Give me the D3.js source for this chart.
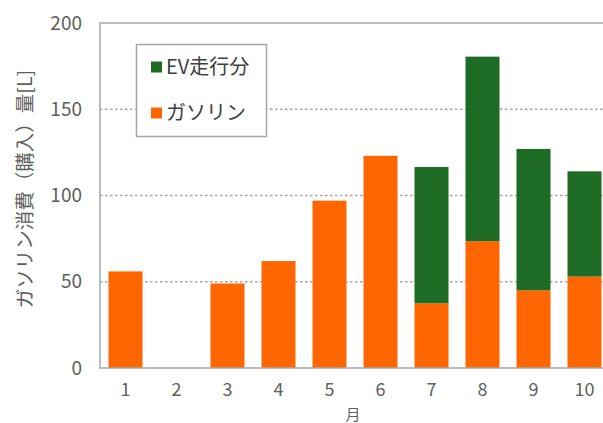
<!DOCTYPE html>
<html><head><meta charset="utf-8">
<script src="https://cdn.jsdelivr.net/npm/d3@7"></script>
<style>
html,body{margin:0;padding:0;background:#fff;overflow:hidden}
svg{display:block}
text{font-family:"Noto Sans CJK JP","Noto Sans",sans-serif}
</style></head><body>
<svg id="c" width="603" height="423"></svg>
<script>
const months = ["1","2","3","4","5","6","7","8","9","10"];
const gasoline = [56, 0, 49, 62, 97, 123, 37.5, 73.5, 45, 53];
const evDriving = [0, 0, 0, 0, 0, 0, 79, 107, 82, 61];
const yTicks = [0, 50, 100, 150, 200];
const seriesNames = ["EV走行分", "ガソリン"];
const colors = {"ガソリン": "#FF6600", "EV走行分": "#1D6B24"};

const svg = d3.select("#c");
const pL = 100, pR = 610, pT = 23, pB = 368;

const x = d3.scaleBand().domain(months).range([pL, pR]).paddingInner(1/3).paddingOuter(1/6);
const y = d3.scaleLinear().domain([0, 200]).range([pB, pT]);

// gridlines
svg.append("g").selectAll("line").data(yTicks.filter(d => d > 0 && d < 200)).join("line")
  .attr("x1", pL).attr("x2", 603).attr("y1", d => y(d)).attr("y2", d => y(d))
  .attr("stroke", "#a6a6a6").attr("stroke-width", 1.3).attr("stroke-dasharray", "2.5,2.5");

// stacked bars
const rows = months.map((m, i) => ({m, "ガソリン": gasoline[i], "EV走行分": evDriving[i]}));
const stack = d3.stack().keys(["ガソリン", "EV走行分"])(rows);
svg.append("g").selectAll("g").data(stack).join("g")
  .attr("fill", d => colors[d.key])
  .selectAll("rect").data(d => d.filter(p => p[1] - p[0] > 0)).join("rect")
  .attr("x", d => x(d.data.m)).attr("width", x.bandwidth())
  .attr("y", d => y(d[1])).attr("height", d => y(d[0]) - y(d[1]));

// plot frame
svg.append("path").attr("d", `M${pR},${pT}H${pL}V${pB}H${pR}`)
  .attr("fill", "none").attr("stroke", "#a6a6a6").attr("stroke-width", 1.5);

// y axis
const yAxis = svg.append("g").attr("transform", `translate(${pL},0)`)
  .call(d3.axisLeft(y).tickValues(yTicks).tickSize(0).tickPadding(18));
yAxis.select(".domain").remove();
yAxis.selectAll("text").attr("font-size", 19).attr("fill", "#606060")
  .style("font-family", '"Noto Sans CJK JP",sans-serif');

// x axis
const xAxis = svg.append("g").attr("transform", `translate(0,${pB})`)
  .call(d3.axisBottom(x).tickSize(0).tickPadding(15));
xAxis.select(".domain").remove();
xAxis.selectAll("text").attr("font-size", 18).attr("fill", "#606060")
  .style("font-family", '"Noto Sans CJK JP",sans-serif');

// axis titles
svg.append("text").attr("x", 353).attr("y", 415).attr("dy", "0.35em").attr("text-anchor", "middle")
  .attr("font-size", 15).attr("fill", "#606060").text("月");
svg.append("text").attr("transform", "translate(25,189) rotate(-90)")
  .attr("dy", "0.35em")
  .attr("text-anchor", "middle").attr("font-size", 19.5).attr("fill", "#606060")
  .text("ガソリン消費（購入）量[L]");

// legend
const lg = svg.append("g");
lg.append("rect").attr("x", 136.5).attr("y", 44.5).attr("width", 130).attr("height", 92)
  .attr("fill", "#fff").attr("stroke", "#a6a6a6").attr("stroke-width", 1.5);
seriesNames.forEach((s, i) => {
  const cy = 67 + i * 46;
  lg.append("rect").attr("x", 151).attr("y", cy - 5.5).attr("width", 11).attr("height", 11).attr("fill", colors[s]);
  lg.append("text").attr("x", 166).attr("y", cy).attr("dy", "0.35em")
    .attr("font-size", 20).attr("fill", "#404040").text(s);
});
</script></body></html>
